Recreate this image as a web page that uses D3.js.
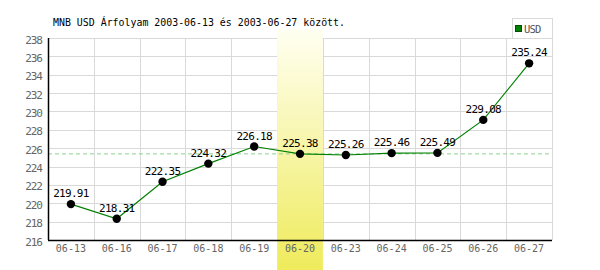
<!DOCTYPE html>
<html>
<head>
<meta charset="utf-8">
<script src="https://cdn.jsdelivr.net/npm/d3@7"></script>
<style>
  body { margin: 0; background: #fff; }
  svg text { font-family: "DejaVu Sans Mono", monospace; }
</style>
</head>
<body>
<svg id="chart" width="600" height="270"></svg>
<script>
// data
var dates = ["06-13", "06-16", "06-17", "06-18", "06-19", "06-20", "06-23", "06-24", "06-25", "06-26", "06-27"];
var usdRates = [219.91, 218.31, 222.35, 224.32, 226.18, 225.38, 225.26, 225.46, 225.49, 229.08, 235.24];
var yTicks = [216, 218, 220, 222, 224, 226, 228, 230, 232, 234, 236, 238];
var selectedDate = "06-20";
var title = "MNB USD Árfolyam 2003-06-13 és 2003-06-27 között.";
var seriesName = "USD";

var svg = d3.select("#chart");
var plotLeft = 48, plotRight = 552, plotTop = 38, plotBottom = 240;

var x = d3.scaleBand().domain(dates).range([plotLeft, plotRight]);
var y = d3.scaleLinear().domain([216, 238]).range([plotBottom, plotTop]);

// gradient for the selected day
var defs = svg.append("defs");
var grad = defs.append("linearGradient")
    .attr("id", "hl").attr("x1", 0).attr("y1", 0).attr("x2", 0).attr("y2", 1);
grad.append("stop").attr("offset", "0%").attr("stop-color", "#fffff2");
grad.append("stop").attr("offset", "100%").attr("stop-color", "#efeb5c");

// grid
svg.append("g").selectAll("line")
    .data(yTicks)
    .enter().append("line")
    .attr("x1", plotLeft).attr("x2", plotRight)
    .attr("y1", d => Math.round(y(d)) + 0.5).attr("y2", d => Math.round(y(d)) + 0.5)
    .attr("stroke", "#d9d9d9");

svg.append("g").selectAll("line")
    .data(dates)
    .enter().append("line")
    .attr("x1", d => Math.round(x(d) + x.bandwidth()) + 0.5)
    .attr("x2", d => Math.round(x(d) + x.bandwidth()) + 0.5)
    .attr("y1", plotTop).attr("y2", plotBottom)
    .attr("stroke", "#d9d9d9");

// highlight band
svg.append("rect")
    .attr("x", x(selectedDate))
    .attr("y", 29)
    .attr("width", x.bandwidth())
    .attr("height", 270 - 29)
    .attr("fill", "url(#hl)");

// reference line at selected day's rate
var refValue = usdRates[dates.indexOf(selectedDate)];
svg.append("line")
    .attr("x1", plotLeft).attr("x2", plotRight)
    .attr("y1", y(refValue)).attr("y2", y(refValue))
    .attr("stroke", "#8fd08f")
    .attr("stroke-dasharray", "4,3");

// axes lines
svg.append("line")
    .attr("x1", plotLeft + 0.5).attr("x2", plotLeft + 0.5)
    .attr("y1", plotTop).attr("y2", plotBottom)
    .attr("stroke", "#000").attr("stroke-width", 1.5);
svg.append("line")
    .attr("x1", plotLeft).attr("x2", plotRight)
    .attr("y1", plotBottom + 0.5).attr("y2", plotBottom + 0.5)
    .attr("stroke", "#000").attr("stroke-width", 1.5);

// y labels
svg.append("g").selectAll("text")
    .data(yTicks)
    .enter().append("text")
    .attr("x", 42)
    .attr("y", d => y(d) + 5.5)
    .attr("text-anchor", "end")
    .attr("font-size", "11px")
    .attr("letter-spacing", "-1px")
    .attr("fill", "#666")
    .text(d => d);

// x labels
svg.append("g").selectAll("text")
    .data(dates)
    .enter().append("text")
    .attr("x", d => x(d) + x.bandwidth() / 2)
    .attr("y", 252)
    .attr("text-anchor", "middle")
    .attr("font-size", "10px")
    .attr("fill", "#666")
    .text(d => d);

// line
var line = d3.line()
    .x((d, i) => x(dates[i]) + x.bandwidth() / 2)
    .y(d => y(d));

svg.append("path")
    .datum(usdRates)
    .attr("d", line)
    .attr("fill", "none")
    .attr("stroke", "#008000")
    .attr("stroke-width", 1.2);

// points
svg.append("g").selectAll("circle")
    .data(usdRates)
    .enter().append("circle")
    .attr("cx", (d, i) => x(dates[i]) + x.bandwidth() / 2)
    .attr("cy", d => y(d))
    .attr("r", 4.2)
    .attr("fill", "#000");

// value labels
svg.append("g").selectAll("text")
    .data(usdRates)
    .enter().append("text")
    .attr("x", (d, i) => x(dates[i]) + x.bandwidth() / 2)
    .attr("y", d => y(d) - 7)
    .attr("text-anchor", "middle")
    .attr("font-size", "11px")
    .attr("letter-spacing", "-0.7px")
    .attr("fill", "#000")
    .text(d => d.toFixed(2));

// title
svg.append("text")
    .attr("x", 53)
    .attr("y", 26)
    .attr("font-size", "10.5px")
    .attr("textLength", 292)
    .attr("lengthAdjust", "spacingAndGlyphs")
    .attr("fill", "#000")
    .text(title);

// legend
var legend = svg.append("g");
legend.append("rect")
    .attr("x", 512.5).attr("y", 18.5)
    .attr("width", 40).attr("height", 20)
    .attr("fill", "#fff").attr("stroke", "#d9d9d9");
legend.append("rect")
    .attr("x", 515.5).attr("y", 25.5)
    .attr("width", 6).attr("height", 6)
    .attr("fill", "#008000").attr("stroke", "#005000");
legend.append("text")
    .attr("x", 524).attr("y", 33)
    .attr("font-size", "10.5px")
    .attr("letter-spacing", "-0.8px")
    .attr("fill", "#555")
    .text(seriesName);
</script>
</body>
</html>
